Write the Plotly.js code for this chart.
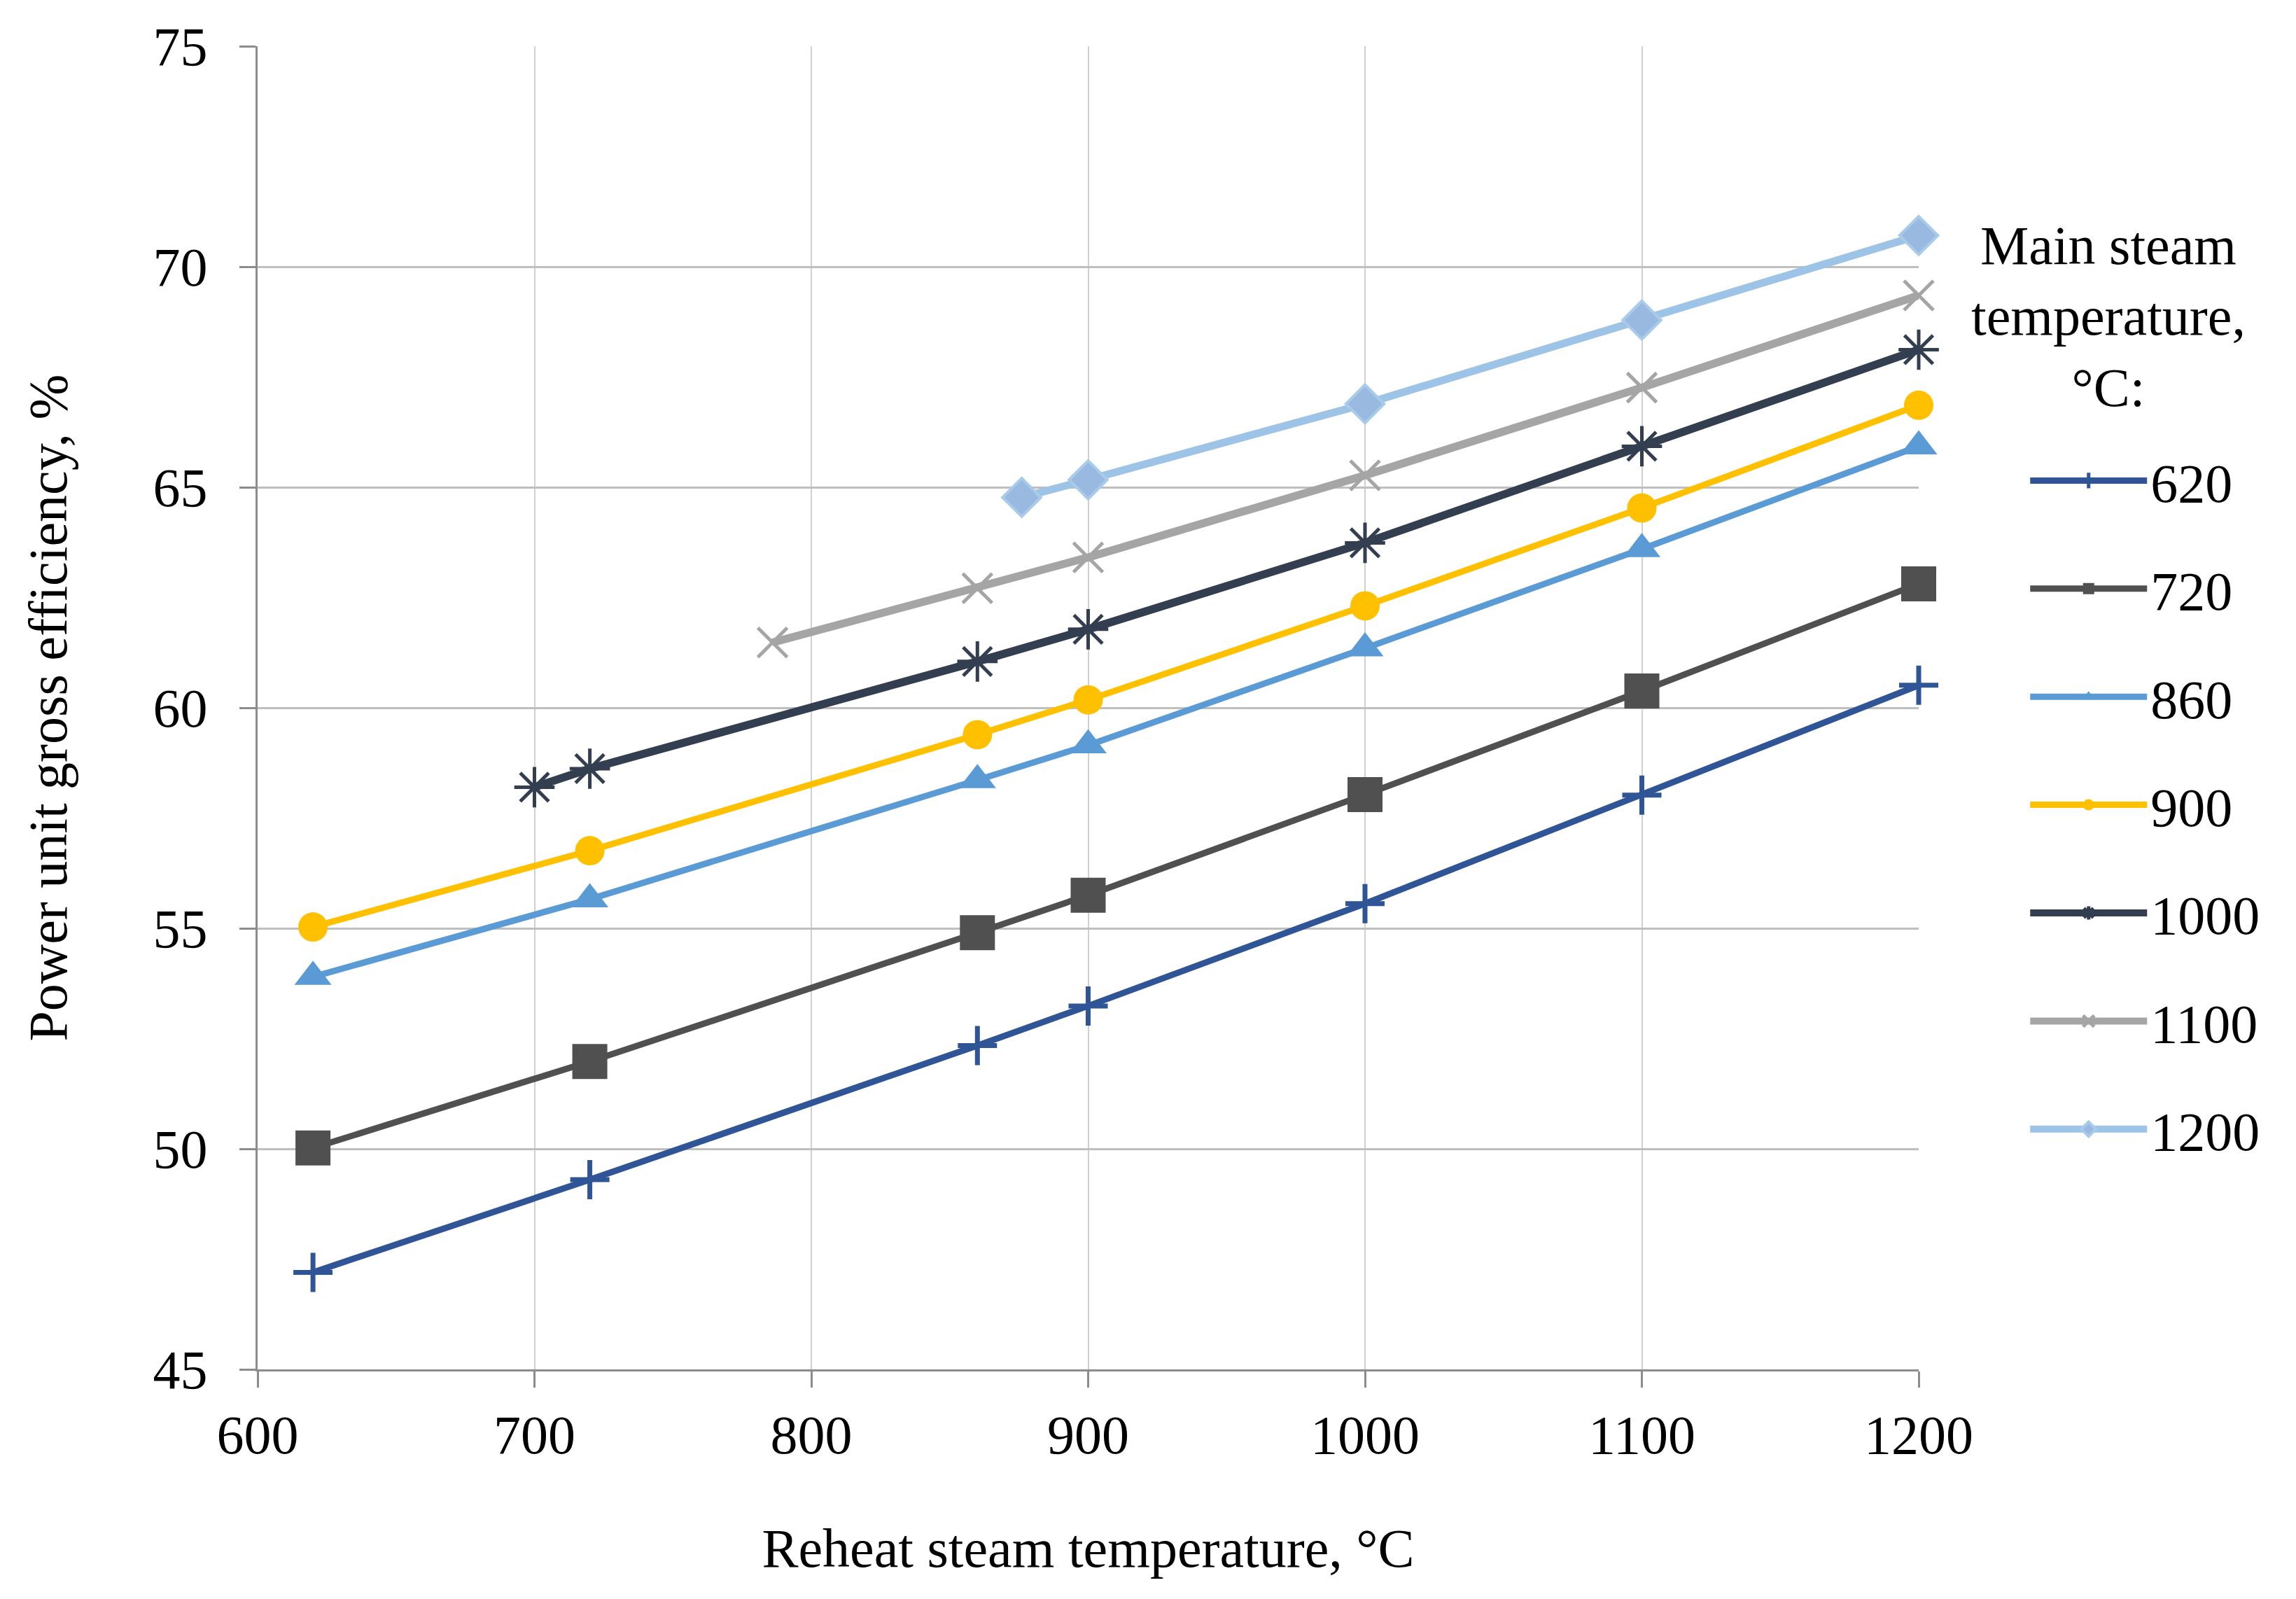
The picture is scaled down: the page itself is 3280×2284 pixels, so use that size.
<!DOCTYPE html>
<html><head><meta charset="utf-8">
<script src="https://cdn.plot.ly/plotly-3.0.1.min.js"></script>
<style>html,body{margin:0;padding:0;background:#fff}</style>
</head><body><div id="chart" style="width:3280px;height:2284px"></div>
<script>
// Reheat steam temperature (x) and power unit gross efficiency (y) per main steam temperature
const names = ['620', '720', '860', '900', '1000', '1100', '1200'];
const legendTitle = 'Main steam<br>temperature,<br>°C:';
const xTitle = 'Reheat steam temperature, °C';
const yTitle = 'Power unit gross efficiency, %';
const x620 = [620, 720, 860, 900, 1000, 1100, 1200];
const y620 = [47.2, 49.3, 52.34, 53.24, 55.56, 58.02, 60.51];
const x720 = [620, 720, 860, 900, 1000, 1100, 1200];
const y720 = [50.02, 51.98, 54.9, 55.75, 58.03, 60.38, 62.81];
const x860 = [620, 720, 860, 900, 1000, 1100, 1200];
const y860 = [53.9, 55.66, 58.36, 59.15, 61.35, 63.6, 65.93];
const x900 = [620, 720, 860, 900, 1000, 1100, 1200];
const y900 = [55.03, 56.76, 59.39, 60.18, 62.31, 64.53, 66.86];
const x1000 = [700, 720, 860, 900, 1000, 1100, 1200];
const y1000 = [58.2, 58.62, 61.05, 61.78, 63.74, 65.93, 68.12];
const x1100 = [786, 860, 900, 1000, 1100, 1200];
const y1100 = [61.48, 62.71, 63.41, 65.27, 67.26, 69.35];
const x1200 = [876, 900, 1000, 1100, 1200];
const y1200 = [64.77, 65.17, 66.89, 68.79, 70.71];

const xs = [x620, x720, x860, x900, x1000, x1100, x1200];
const ys = [y620, y720, y860, y900, y1000, y1100, y1200];

const styles = [
  {color:'#2F5597', lw:9, sym:'cross-thin-open', size:40, mlw:7, mline:'#2F5597'},
  {color:'#505050', lw:9, sym:'square', size:50, mlw:0, mline:'#505050'},
  {color:'#5B9BD5', lw:9, sym:'triangle-up', size:46, mlw:0, mline:'#5B9BD5'},
  {color:'#FFC000', lw:9, sym:'circle', size:42, mlw:0, mline:'#FFC000'},
  {color:'#333F50', lw:11.5, sym:'asterisk-open', size:48, mlw:5, mline:'#333F50'},
  {color:'#A5A5A5', lw:11.5, sym:'x-thin-open', size:42, mlw:5, mline:'#A5A5A5'},
  {color:'#9DC3E6', lw:11, sym:'diamond', size:42, mlw:4, mline:'#A9CBEA'}
];

const traces = names.map((n, i) => {
  const s = styles[i];
  const mcolor = (i === 6) ? '#99B9E0' : s.color;
  return {
    x: xs[i], y: ys[i], name: n, type: 'scatter', mode: 'lines+markers',
    legendgroup: 'g' + n,
    line: {color: s.color, width: s.lw},
    marker: {symbol: s.sym, size: s.size, color: mcolor, line: {width: s.mlw, color: s.mline}},
    cliponaxis: false
  };
});

const font = 'Liberation Serif, Times New Roman, serif';
const fs = 78;
// leading non-breaking spaces shift the rotated title upward, as in the reference
const yTitlePad = '\u00A0'.repeat(11);
const layout = {
  width: 3280, height: 2284,
  margin: {l: 368, r: 539, t: 66, b: 328},
  paper_bgcolor: '#fff', plot_bgcolor: '#fff',
  font: {family: font, size: fs, color: '#000'},
  showlegend: true,
  xaxis: {
    range: [600, 1200], dtick: 100, tick0: 600,
    showgrid: true, gridcolor: '#D0D0D0', gridwidth: 2,
    showline: true, linecolor: '#8C8C8C', linewidth: 3,
    ticks: 'outside', ticklen: 23, tickwidth: 3, tickcolor: '#8C8C8C',
    tickfont: {family: font, size: fs, color: '#000'},
    ticklabelstandoff: 0,
    zeroline: false,
    title: {text: xTitle, font: {family: font, size: fs, color: '#000'}, standoff: 92}
  },
  yaxis: {
    range: [45, 75], dtick: 5, tick0: 45,
    showgrid: true, gridcolor: '#BFBFBF', gridwidth: 3,
    showline: true, linecolor: '#8C8C8C', linewidth: 3,
    ticks: 'outside', ticklen: 23, tickwidth: 3, tickcolor: '#8C8C8C',
    tickfont: {family: font, size: fs, color: '#000'},
    ticklabelstandoff: 30,
    zeroline: false,
    title: {text: yTitlePad + yTitle, font: {family: font, size: fs, color: '#000'}, standoff: 98}
  },
  legend: {
    x: 1.065, xanchor: 'left', y: 0.702, yanchor: 'top',
    bgcolor: 'rgba(0,0,0,0)',
    font: {family: font, size: fs, color: '#000'},
    itemwidth: 167, itemsizing: 'trace',
    traceorder: 'grouped', tracegroupgap: 50
  },
  annotations: [{
    text: legendTitle, xref: 'paper', yref: 'paper', x: 1.1142, y: 0.7958,
    xanchor: 'center', yanchor: 'middle', align: 'center', showarrow: false,
    font: {family: font, size: fs, color: '#000'}
  }]
};

Plotly.newPlot('chart', traces, layout, {displayModeBar: false, staticPlot: true});
</script></body></html>
